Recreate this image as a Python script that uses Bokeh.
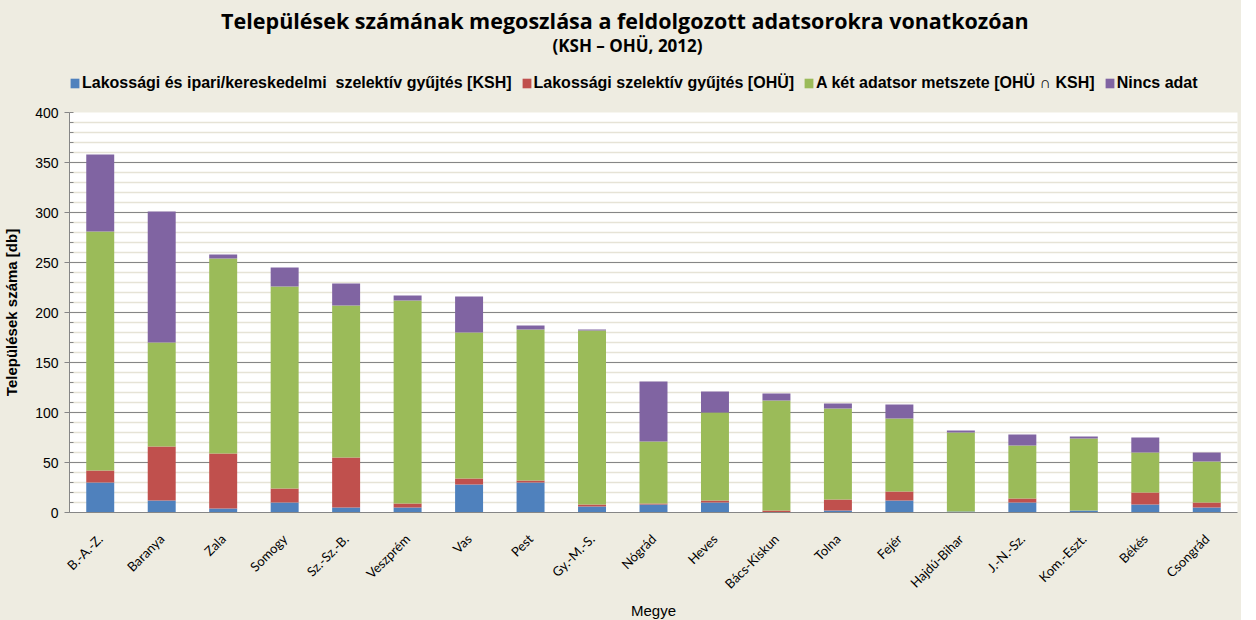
import math
from bokeh.plotting import figure
from bokeh.layouts import column
from bokeh.models import (FactorRange, Range1d, SingleIntervalTicker,
                          Legend, LegendItem, ColumnDataSource)
from bokeh.core.properties import value
from bokeh.embed import file_html
from bokeh.resources import INLINE

categories = ["B.-A.-Z.", "Baranya", "Zala", "Somogy", "Sz.-Sz.-B.", "Veszprém",
              "Vas", "Pest", "Gy.-M.-S.", "Nógrád", "Heves", "Bács-Kiskun",
              "Tolna", "Fejér", "Hajdú-Bihar", "J.-N.-Sz.", "Kom.-Eszt.",
              "Békés", "Csongrád"]
ksh = [30, 12, 4, 10, 5, 5, 28, 30, 6, 8, 10, 0, 2, 12, 1, 10, 2, 8, 5]
ohu = [12, 54, 55, 14, 50, 4, 6, 2, 2, 1, 2, 2, 11, 9, 0, 4, 0, 12, 5]
both = [239, 104, 195, 202, 152, 203, 146, 151, 174, 62, 88, 110, 91, 73, 79, 53, 72, 40, 41]
nodata = [77, 131, 4, 19, 22, 5, 36, 4, 1, 60, 21, 7, 5, 14, 2, 11, 2, 15, 9]

series_keys = ["ksh", "ohu", "both", "nodata"]
series_labels = ["Lakossági és ipari/kereskedelmi  szelektív gyűjtés [KSH]",
                 "Lakossági szelektív gyűjtés [OHÜ]",
                 "A két adatsor metszete [OHÜ ∩ KSH]",
                 "Nincs adat"]
colors = ["#4F81BD", "#C0504D", "#9BBB59", "#8064A2"]

title_text = "Települések számának megoszlása  a feldolgozott adatsorokra  vonatkozóan"
subtitle_text = "(KSH – OHÜ, 2012)"
x_label = "Megye"
y_label = "Települések száma [db]"

BG = "#EEECE1"
GRID = "#868686"
LEFT, RIGHT = 68, 4
FRAME_W = 1168
HEAD_H = 102

# ---------------- header: title, subtitle, legend ----------------
head = figure(frame_width=FRAME_W, frame_height=HEAD_H,
              x_range=Range1d(LEFT, LEFT + FRAME_W), y_range=Range1d(HEAD_H, 0),
              min_border_left=LEFT, min_border_right=RIGHT, min_border_top=0, min_border_bottom=0,
              output_backend="svg", toolbar_location=None,
              x_axis_location=None, y_axis_location=None,
              background_fill_color=BG, border_fill_color=BG,
              outline_line_color=BG, outline_line_width=3)
head.grid.visible = False

head.text(x=[629], y=[20], text=[title_text], text_font=value("Open Sans"),
          text_font_size="21.5px", text_font_style="bold", text_color="#000000",
          text_align="center", text_baseline="middle")
head.text(x=[626], y=[45], text=[subtitle_text], text_font=value("Open Sans"),
          text_font_size="17px", text_font_style="bold", text_color="#000000",
          text_align="center", text_baseline="middle")

# zero-size bars used only as legend swatches
swatches = [head.vbar(x=[0], top=[0], bottom=[0], width=0, color=c, line_color=None)
            for c in colors]
items = [LegendItem(label=lbl, renderers=[r]) for lbl, r in zip(series_labels, swatches)]
legend = Legend(items=items, orientation="horizontal", location=(0, 10),
                label_text_font="Liberation Sans", label_text_font_size="16px",
                label_text_font_style="bold", label_text_color="#000000",
                glyph_width=11, glyph_height=12, label_standoff=2, spacing=9,
                padding=0, margin=0, background_fill_alpha=0, border_line_alpha=0,
                label_height=18)
head.add_layout(legend)

# ---------------- main chart ----------------
source = ColumnDataSource(dict(cat=categories, ksh=ksh, ohu=ohu, both=both, nodata=nodata))

p = figure(x_range=FactorRange(*categories), y_range=Range1d(0, 400),
           frame_width=FRAME_W, frame_height=400,
           min_border_left=LEFT, min_border_right=RIGHT, min_border_top=10, min_border_bottom=92,
           output_backend="svg", toolbar_location=None,
           background_fill_color="white", border_fill_color=BG,
           outline_line_color=None)

p.vbar_stack(series_keys, x="cat", width=0.455, color=colors, line_color=None, source=source)

p.yaxis.ticker = SingleIntervalTicker(interval=50, num_minor_ticks=5)
p.yaxis.axis_line_color = GRID
p.yaxis.major_tick_line_color = GRID
p.yaxis.minor_tick_line_color = GRID
p.yaxis.major_tick_out = 5
p.yaxis.major_tick_in = 0
p.yaxis.minor_tick_in = 4
p.yaxis.minor_tick_out = 0
p.yaxis.major_label_standoff = 6
p.yaxis.major_label_text_font = "Liberation Sans"
p.yaxis.major_label_text_font_size = "14px"
p.yaxis.major_label_text_color = "#000000"
p.yaxis.axis_label = y_label
p.yaxis.axis_label_text_font = "Liberation Sans"
p.yaxis.axis_label_text_font_size = "15px"
p.yaxis.axis_label_text_font_style = "bold"
p.yaxis.axis_label_text_color = "#000000"
p.yaxis.axis_label_standoff = 12

p.xaxis.axis_line_color = GRID
p.xaxis.major_tick_line_color = None
p.xaxis.minor_tick_line_color = None
p.xaxis.major_label_orientation = math.pi / 4
p.xaxis.major_label_standoff = 18
p.xaxis.major_label_text_font = "Lato"
p.xaxis.major_label_text_font_size = "13px"
p.xaxis.major_label_text_color = "#000000"
p.xaxis.axis_label = x_label
p.xaxis.axis_label_text_font = "Liberation Sans"
p.xaxis.axis_label_text_font_size = "15px"
p.xaxis.axis_label_text_font_style = "normal"
p.xaxis.axis_label_text_color = "#000000"
p.xaxis.axis_label_standoff = 2

p.xgrid.grid_line_color = None
p.ygrid.grid_line_color = GRID
p.ygrid.minor_grid_line_color = "#E6E3D6"
p.ygrid.minor_grid_line_width = 1.5

layout = column(head, p, spacing=0, styles={"background-color": BG})
open("out.html", "w").write(file_html(layout, INLINE, title="Települések"))
